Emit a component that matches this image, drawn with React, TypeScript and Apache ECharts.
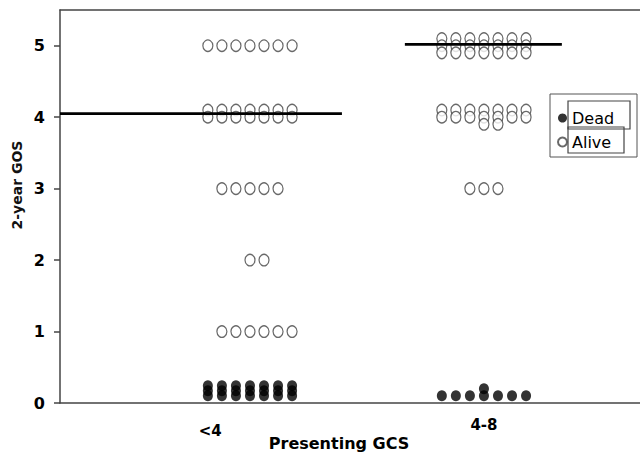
import React, { useEffect, useRef } from "react";
import * as echarts from "echarts";

// ---- data ----
const categories = ["<4", "4-8"];
const categoryCenters = [1, 2];
const tickLabelPositions = [0.83, 2.0];
const tickLabelOffsets = [28, 22];
const yTicks = [0, 1, 2, 3, 4, 5];
const columnStep = 0.06;
const ALL = [0, 1, 2, 3, 4, 5, 6];

// each row: plotted GOS value (slightly jittered in the original) and the columns it occupies
const aliveLt4Rows = [
  { y: 5.0, cols: ALL },
  { y: 4.1, cols: ALL },
  { y: 4.0, cols: ALL },
  { y: 3.0, cols: [1, 2, 3, 4, 5] },
  { y: 2.0, cols: [3, 4] },
  { y: 1.0, cols: [1, 2, 3, 4, 5, 6] },
];
const deadLt4Rows = [
  { y: 0.24, cols: ALL },
  { y: 0.17, cols: ALL },
  { y: 0.1, cols: ALL },
];
const alive48Rows = [
  { y: 5.1, cols: ALL },
  { y: 5.0, cols: ALL },
  { y: 4.9, cols: ALL },
  { y: 4.1, cols: ALL },
  { y: 4.0, cols: ALL },
  { y: 3.9, cols: [3, 4] },
  { y: 3.0, cols: [2, 3, 4] },
];
const dead48Rows = [
  { y: 0.2, cols: [3] },
  { y: 0.1, cols: ALL },
];
const medianValues = [4.05, 5.02];
const medianStart = [0.188, 1.662];
const medianEnd = [1.393, 2.333];

const X_MIN = 0.188;
const X_MAX = 2.667;

function toPoints(rows: { y: number; cols: number[] }[], groupIdx: number) {
  const pts: number[][] = [];
  rows.forEach((r) => {
    r.cols.forEach((c) => {
      pts.push([categoryCenters[groupIdx] + (c - 3) * columnStep, r.y]);
    });
  });
  return pts;
}

const FONT = "DejaVu Sans";

export default function App() {
  const ref = useRef<HTMLDivElement>(null);
  useEffect(() => {
    document.body.style.margin = "0";
    const chart = echarts.init(ref.current!, null, { renderer: "svg" });
    const alive = [...toPoints(aliveLt4Rows, 0), ...toPoints(alive48Rows, 1)];
    const dead = [...toPoints(deadLt4Rows, 0), ...toPoints(dead48Rows, 1)];
    const axisLine = { show: true, lineStyle: { color: "#444", width: 1.5 } };
    const option: any = {
      animation: false,
      backgroundColor: "#fff",
      grid: { left: 60, right: 0, top: 10, bottom: 52 },
      xAxis: [
        {
          type: "value",
          min: X_MIN,
          max: X_MAX,
          axisLine,
          axisTick: { show: false },
          axisLabel: { show: false },
          splitLine: { show: false },
        },
        {
          type: "value",
          position: "top",
          min: X_MIN,
          max: X_MAX,
          axisLine,
          axisTick: { show: false },
          axisLabel: { show: false },
          splitLine: { show: false },
        },
      ],
      yAxis: {
        type: "value",
        min: 0,
        max: 5.5,
        interval: 1,
        axisLine,
        axisTick: { show: true, length: 6, customValues: yTicks, lineStyle: { color: "#444", width: 1.5 } },
        axisLabel: {
          customValues: yTicks,
          margin: 15,
          fontFamily: FONT,
          fontWeight: "bold",
          fontSize: 16,
          color: "#000",
        },
        splitLine: { show: false },
      },
      legend: {
        data: ["Dead", "Alive"],
        orient: "vertical",
        left: 557,
        top: 108,
        padding: 0,
        itemWidth: 9,
        itemHeight: 9,
        itemGap: 4,
        itemTextGap: 9,
        textStyle: { fontFamily: FONT, fontSize: 16, lineHeight: 20, color: "#000" },
        selectedMode: false,
      },
      series: [
        {
          name: "Alive",
          type: "scatter",
          symbol: "circle",
          symbolSize: [10, 11.5],
          itemStyle: { color: "#fff", borderColor: "#444", borderWidth: 1.3 },
          data: alive,
          clip: false,
          z: 2,
        },
        {
          name: "Dead",
          type: "scatter",
          symbol: "circle",
          symbolSize: [10, 11],
          itemStyle: { color: "#000" },
          data: dead,
          clip: false,
          z: 3,
        },
        ...medianValues.map((m, i) => ({
          name: "median-" + categories[i],
          type: "line",
          symbol: "none",
          silent: true,
          z: 4,
          lineStyle: { color: "#000", width: 2.8 },
          data: [
            [medianStart[i], m],
            [medianEnd[i], m],
          ],
        })),
      ],
    };
    chart.setOption(option);

    const graphics: any[] = [];
    categories.forEach((c, i) => {
      const px = chart.convertToPixel({ xAxisIndex: 0 }, tickLabelPositions[i]) as number;
      graphics.push({
        type: "text",
        x: px,
        y: 403 + tickLabelOffsets[i],
        style: {
          text: c,
          fontFamily: FONT,
          fontWeight: "bold",
          fontSize: 15,
          fill: "#000",
          align: "center",
          verticalAlign: "middle",
        },
      });
    });
    graphics.push(
      {
        type: "text",
        x: 339,
        y: 443,
        style: {
          text: "Presenting GCS",
          fontFamily: FONT,
          fontWeight: "bold",
          fontSize: 16,
          fill: "#000",
          align: "center",
          verticalAlign: "middle",
        },
      },
      {
        type: "text",
        x: 17,
        y: 185,
        rotation: Math.PI / 2,
        style: {
          text: "2-year GOS",
          fontFamily: FONT,
          fontWeight: "bold",
          fontSize: 14,
          fill: "#111",
          align: "center",
          verticalAlign: "middle",
        },
      },
      {
        type: "rect",
        shape: { x: 550, y: 94, width: 87, height: 63 },
        style: { fill: "none", stroke: "#555", lineWidth: 1 },
        z: 10,
      },
      {
        type: "rect",
        shape: { x: 568, y: 101, width: 62, height: 28 },
        style: { fill: "none", stroke: "#444", lineWidth: 1.2 },
        z: 10,
      },
      {
        type: "rect",
        shape: { x: 568, y: 127, width: 56, height: 26 },
        style: { fill: "none", stroke: "#444", lineWidth: 1.2 },
        z: 10,
      }
    );
    chart.setOption({ graphic: graphics });
    return () => chart.dispose();
  }, []);
  return <div ref={ref} style={{ width: 640, height: 455 }} />;
}
